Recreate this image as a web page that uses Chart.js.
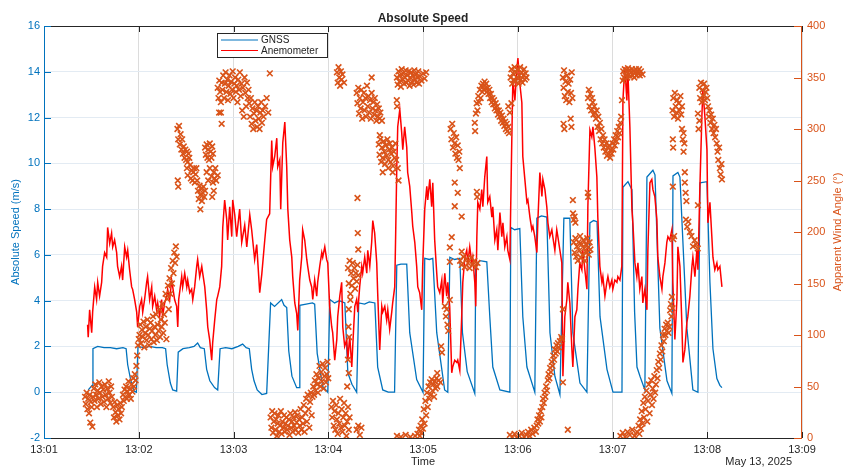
<!DOCTYPE html>
<html>
<head>
<meta charset="utf-8">
<script src="https://cdn.jsdelivr.net/npm/chart.js@4.4.1/dist/chart.umd.min.js"></script>
<style>
  html, body { margin: 0; padding: 0; background: #fff; }
  #wrap { width: 847px; height: 467px; }
</style>
</head>
<body>
<div id="wrap"><canvas id="chart" width="847" height="467"></canvas></div>
<script>
// x values are seconds after 13:01:00 (May 13, 2025)
const minuteTicks = [0, 60, 120, 180, 240, 300, 360, 420, 480];
const tickLabels = ['13:01', '13:02', '13:03', '13:04', '13:05', '13:06', '13:07', '13:08', '13:09'];
const speedTicks = [-2, 0, 2, 4, 6, 8, 10, 12, 14, 16];
const angleTicks = [0, 50, 100, 150, 200, 250, 300, 350, 400];

// GNSS absolute speed (m/s): [t, v]
const gnss = [
  [28,0.1],[30.5,0.3],[31,1.9],[34,2.0],[38,1.95],[42,1.95],[46,1.9],[50,1.95],[52,1.9],[53,1.2],[55,0.5],[57,0.05],[58.5,0.0],
  [59.5,2.0],[63,1.95],[67,2.0],[71,1.95],[75,1.95],[77,1.9],[78,1.2],[80,0.4],[81.5,0.1],[84,0.05],
  [85,1.75],[88,1.9],[92,1.95],[95,2.0],[97.3,2.15],[99,1.95],[101.5,1.9],[103,1.0],[105,0.5],[108,0.2],[110,0.1],
  [111.5,1.9],[115,1.95],[119,1.9],[123,2.0],[125.8,2.1],[128,1.95],[130,1.9],[131.5,1.0],[133,0.5],[135,0.1],[138,-0.1],[141,-0.05],
  [143.5,3.9],[146,3.75],[150.5,4.05],[152,3.8],[153.7,3.7],[155,1.8],[157,0.7],[160,0.2],[161.5,0.2],
  [162,3.8],[166,3.85],[170,3.9],[171.4,3.85],[173,1.7],[176.5,0.25],[179.7,0.0],
  [181,4.05],[184,3.9],[187,4.0],[190.5,3.9],[192.4,0.85],[195,0.35],[198,0.0],
  [199.3,3.9],[203,3.85],[206,3.95],[209.5,3.9],[211.3,1.1],[214.5,0.1],[218,0.0],[222,0.0],
  [223.4,5.55],[226,5.6],[229.7,5.6],[231.6,2.6],[236,0.55],[240,0.0],
  [241.1,5.85],[244,5.8],[246.2,5.85],[248.7,2.6],[253.7,0.1],[255.7,0.0],
  [257,5.9],[260,5.8],[263.3,5.85],[265,2.6],[268,0.9],[272.8,-0.05],
  [273.4,5.5],[276,5.75],[280.4,5.7],[282.3,3.3],[284.2,1.1],[288.7,0.1],[295,0.0],
  [295.6,7.2],[298,7.1],[301.3,7.15],[303.2,3.3],[305.8,1.1],[310.8,0.0],
  [312.1,7.6],[315,7.7],[318.4,7.65],[320.4,2.6],[323.5,0.7],[326.7,-0.1],
  [329.2,7.6],[333,7.6],[334.9,2.6],[339.4,0.4],[343.8,0.0],
  [345.7,7.4],[348,7.5],[350.2,7.45],[352.1,3.3],[356.5,1.0],[360.3,0.0],[366,0.0],
  [366.6,8.95],[369.8,9.2],[372.3,8.85],[374,3.5],[375.5,1.1],[377.4,0.7],[380.5,0.1],
  [381.8,9.4],[385.6,9.7],[386.9,9.5],[390,2.8],[394.5,0.5],[397.6,-0.05],
  [398.3,9.45],[401.4,9.6],[402.7,9.4],[407.1,2.8],[410.9,0.1],[414.1,0.0],
  [415.4,9.15],[419.8,9.2],[421.7,4.8],[423.6,1.9],[426.1,0.6],[428,0.3],[429.3,0.2]
];

// Anemometer speed (m/s): [t, v]
const anemometer = [
  [27.6,2.95],[28.0,2.4],[28.9,3.6],[30.2,2.6],[30.8,3.5],[32.1,4.6],[33.3,4.05],[34.0,4.8],[35.2,4.2],[36.5,4.8],
  [37.1,5.5],[38.4,6.1],[39.7,5.9],[40.3,7.2],[41.6,6.5],[42.8,6.95],[43.5,6.35],[44.7,6.65],[46.0,6.1],[46.6,5.5],
  [47.9,5.05],[49.1,5.5],[49.8,4.9],[51.1,6.35],[52.3,5.9],[53.0,6.2],[54.2,5.35],[55.5,4.6],[56.1,4.5],[57.4,4.05],
  [58.7,3.5],[59.3,2.85],[60.6,3.75],[61.8,4.05],[62.5,3.5],[63.7,4.05],[65.0,4.8],[65.6,5.05],[66.9,4.05],[68.2,4.6],
  [68.8,3.75],[70.1,4.2],[71.3,3.6],[72.0,3.9],[73.2,3.3],[74.5,4.05],[75.1,3.3],[76.4,3.9],[77.7,4.2],[78.3,4.5],
  [79.6,4.05],[80.8,4.9],[81.5,4.6],[82.7,4.05],[84.0,3.75],[84.7,2.85],[85.3,4.05],[87.2,5.05],[87.8,4.6],[89.1,5.2],
  [90.4,4.6],[91.0,4.9],[92.3,4.35],[93.5,4.5],[94.2,4.05],[95.4,4.6],[96.7,5.5],[97.3,5.8],[98.6,5.05],[99.9,5.5],
  [100.5,5.2],[101.8,4.6],[103.0,3.6],[103.7,2.85],[104.9,2.3],[106.2,1.4],[106.8,2.15],[108.1,3.15],[109.4,4.05],[110.0,4.2],
  [111.3,4.6],[112.5,5.5],[113.2,7.2],[114.4,8.4],[115.7,7.55],[116.3,6.65],[117.6,8.1],[118.9,6.8],[119.5,8.4],[120.8,7.75],
  [122.0,6.8],[123.9,8.0],[125.2,6.55],[127.1,7.3],[128.4,6.35],[130.3,7.75],[131.5,7.1],[133.4,5.8],[134.7,6.45],[136.6,4.35],
  [137.9,5.15],[139.8,6.65],[141.0,7.55],[142.9,7.8],[144.2,11.0],[144.8,9.85],[146.1,10.3],[147.4,11.1],[148.0,9.85],[149.3,10.15],
  [149.9,8.0],[151.2,10.9],[152.5,11.8],[153.7,9.85],[154.4,8.0],[155.6,6.65],[156.9,5.9],[157.5,5.05],[158.8,3.9],[160.0,3.45],
  [160.7,2.7],[161.9,4.9],[163.2,5.9],[163.8,7.1],[165.1,6.65],[166.4,5.8],[167.0,5.5],[168.3,4.9],[169.5,4.6],[170.2,4.05],
  [171.4,4.9],[172.7,4.2],[173.3,4.8],[174.6,5.5],[175.9,6.1],[176.5,5.9],[177.8,6.35],[179.0,5.8],[179.7,5.65],[180.9,3.75],
  [182.2,2.85],[182.8,2.6],[184.1,1.4],[185.4,2.3],[186.0,3.3],[187.3,4.2],[188.5,4.8],[189.2,2.85],[190.4,2.0],[191.7,2.3],
  [192.4,1.4],[193.6,2.45],[194.9,1.1],[195.5,2.0],[196.8,3.75],[198.0,4.05],[198.7,3.5],[199.9,4.6],[201.2,5.5],[201.8,5.2],
  [203.1,5.9],[204.4,5.2],[205.0,6.2],[206.3,5.5],[207.5,6.55],[208.2,7.5],[209.4,6.95],[210.7,5.65],[211.3,4.35],[212.6,1.85],
  [213.9,3.75],[214.5,3.5],[215.8,3.75],[217.0,3.15],[217.7,3.6],[218.9,2.75],[220.2,3.5],[220.8,3.9],[222.1,4.6],[222.7,6.95],
  [223.4,9.85],[224.0,11.6],[225.3,12.35],[226.5,11.35],[227.2,10.6],[228.4,11.6],[229.7,10.7],[230.3,9.6],[231.6,9.0],[232.9,7.85],
  [233.5,7.25],[234.8,6.55],[236.0,5.5],[236.7,4.6],[237.9,4.35],[239.2,3.6],[239.8,5.5],[241.1,8.0],[242.4,9.0],[243.0,8.4],
  [244.3,9.3],[245.5,8.1],[246.2,9.15],[247.4,6.65],[248.7,5.2],[249.3,4.6],[250.6,4.35],[251.9,4.9],[252.5,3.9],[253.8,5.2],
  [255.0,4.2],[255.7,4.8],[256.9,3.75],[258.2,0.85],[258.8,1.1],[260.1,1.4],[261.4,1.3],[262.0,1.4],[263.3,0.95],[264.5,3.3],
  [265.2,4.8],[266.5,5.9],[267.7,6.2],[268.4,5.65],[269.6,6.35],[270.9,5.65],[271.5,5.9],[272.8,4.8],[273.4,3.75],[274.1,6.8],
  [274.7,8.3],[276.0,8.0],[277.2,8.85],[277.9,8.1],[279.1,9.4],[280.4,10.3],[281.0,8.3],[282.3,8.55],[283.6,7.65],[284.2,8.1],
  [285.5,6.65],[286.7,7.1],[287.4,6.2],[288.7,7.85],[289.9,6.8],[290.6,7.4],[291.8,6.35],[293.1,6.8],[293.7,6.2],[295.0,5.8],
  [296.2,10.9],[296.9,13.65],[298.2,12.75],[299.4,14.1],[300.1,14.6],[301.3,13.5],[302.6,12.65],[303.2,10.3],[304.5,9.3],[305.8,8.3],
  [306.4,8.4],[307.7,7.65],[308.9,7.1],[309.6,7.25],[310.8,6.8],[312.1,6.1],[312.7,7.4],[314.0,9.6],[315.3,8.55],[315.9,9.3],
  [317.2,8.85],[318.4,8.1],[319.1,7.4],[320.3,6.8],[321.6,7.1],[322.2,6.8],[323.5,6.2],[324.7,7.1],[325.4,6.8],[326.7,6.2],
  [327.9,5.65],[328.6,0.7],[329.8,3.3],[331.1,4.05],[331.7,4.8],[333.0,3.9],[334.3,1.85],[334.9,1.1],[336.2,3.3],[337.4,3.6],
  [338.1,4.5],[339.3,5.65],[340.6,5.35],[341.2,6.2],[342.5,5.35],[343.8,4.5],[344.4,8.1],[345.7,11.45],[346.9,11.15],[347.6,11.6],
  [348.8,10.7],[350.1,9.4],[350.7,7.65],[352.0,5.5],[353.3,4.8],[353.9,5.05],[355.2,4.2],[356.4,4.8],[357.1,5.05],[358.3,4.6],
  [359.6,4.9],[360.2,4.5],[361.5,4.9],[362.8,4.8],[363.4,5.05],[364.7,4.9],[365.9,5.5],[366.6,12.75],[367.8,14.2],[369.1,12.75],
  [369.7,14.1],[371.0,11.6],[372.3,8.0],[372.9,7.4],[374.2,5.65],[375.4,5.05],[376.1,5.65],[377.3,4.5],[378.6,5.05],[379.2,3.9],
  [380.5,4.5],[381.8,3.6],[382.4,6.2],[383.7,9.15],[384.9,9.3],[385.6,8.85],[386.8,8.55],[388.1,7.55],[388.7,5.9],[390.0,5.05],
  [391.3,4.5],[391.9,5.05],[393.2,5.65],[394.4,6.55],[395.1,6.8],[396.3,6.65],[397.6,7.1],[398.2,4.8],[399.5,2.3],[400.8,4.05],
  [401.4,6.35],[402.7,5.5],[403.9,3.05],[404.6,1.3],[405.8,1.85],[407.1,3.05],[407.7,3.3],[409.0,4.2],[410.3,5.5],[410.9,5.9],
  [412.2,5.05],[413.4,6.2],[414.1,5.35],[415.3,8.85],[416.6,12.05],[417.2,13.2],[418.5,12.05],[419.8,10.6],[420.4,7.4],[421.7,8.3],
  [422.9,6.8],[423.6,5.9],[424.8,5.35],[426.1,5.65],[426.7,5.35],[428.0,5.5],[429.3,4.6]
];

// Apparent wind angle (deg): [t, angle]
const windAngle = [
  [26,40],[26.5,33],[27,44],[27.5,28],[28,38],[28.5,24],[29,42],[29.3,15],[29.7,35],[30.2,30],[30.6,11],[31,40],
  [31.5,48],[32,36],[32.5,52],[33,42],[33.5,30],[34,46],[34.5,38],[35,54],[35.5,44],[36,33],[36.5,50],[37,40],
  [37.5,47],[38,35],[38.5,52],[39,42],[39.5,30],[40,48],[40.5,38],[41,55],[41.5,44],[42,34],[42.5,50],[43,40],
  [43.8,30],[44.3,20],[44.8,35],[45.3,25],[45.8,16],[46.3,32],[46.8,22],[47.3,28],[47.8,18],[48.3,34],[48.8,24],[49.3,30],
  [50,42],[50.5,36],[51,47],[51.5,40],[52,50],[52.5,38],[53,45],[53.5,55],[54,42],[54.5,48],[55,38],[55.5,52],
  [56,45],[56.5,58],[57,50],[57.5,62],[58,56],[58.5,70],[59,80],[59.5,90],[60,96],
  [60.5,100],[61,110],[61.5,92],[62,105],[62.5,98],[63,113],[63.5,88],[64,102],[64.5,108],[65,95],[65.5,115],[66,100],
  [66.5,90],[67,106],[67.5,112],[68,96],[68.5,104],[69,118],[69.5,93],[70,108],[70.5,100],[71,120],[71.5,95],[72,110],
  [72.5,104],[73,125],[73.5,98],[74,115],[74.5,108],[75,130],[75.5,102],[76,120],[76.5,112],[77,140],[77.5,96],
  [78,135],[78.5,148],[79,125],[79.5,155],[80,140],[80.5,165],[81,150],[81.5,172],[82,160],[82.5,180],[83,170],[83.5,186],[84,176],
  [84.5,300],[85,290],[85.5,303],[86,285],[86.5,295],[87,280],[87.5,290],[88,276],[84.7,250],[85,244],
  [88.5,283],[89,272],[89.5,280],[90,270],[90.5,278],[91,268],[91.5,276],[92,272],
  [90.5,262],[91,255],[92.5,265],[93,252],[93.5,260],[94,250],[94.5,258],[95,262],[95.5,248],[96,256],[96.5,262],[97,250],
  [97.5,240],[98,232],[98.5,245],[99,236],[99.5,242],[100,230],[100.5,238],[101,244],[101.5,234],[102,240],[99,222],
  [102,282],[102.5,275],[103,285],[103.5,272],[104,280],[104.5,270],[105,286],[105.5,278],[106,272],[106.5,283],[107,276],
  [103,258],[104,250],[105,262],[106,254],[107,248],[107.5,258],[108,252],[108.5,262],[109,250],[110,255],[106.5,234],[107.5,240],
  [110,340],[110.5,330],[111,347],[111.5,336],[112,326],[112.5,345],[113,338],[113.5,352],[114,330],[114.5,344],[115,355],
  [115.5,336],[116,348],[116.5,328],[117,342],[117.5,352],[118,334],[118.5,346],[119,338],[119.5,356],[120,330],[120.5,344],
  [121,350],[121.5,336],[122,342],[122.5,326],[123,348],[123.5,338],[124,355],[124.5,332],[125,344],[125.5,318],[126,340],
  [126.5,312],[127,350],[127.5,335],[128,322],[128.5,345],[129,330],[129.5,338],[112,316],[112.5,305],[110.9,316],
  [130,325],[130.5,312],[131,330],[131.5,305],[132,320],[132.5,300],[133,315],[133.5,326],[134,308],[134.5,318],[135,302],
  [135.5,322],[136,310],[136.5,300],[137,316],[137.5,326],[138,306],[138.5,318],[139,312],[140,322],[141,330],[142,316],[143,354],
  [143.5,20],[144,10],[144.5,26],[145,5],[145.5,16],[146,24],[146.5,8],[147,18],[147.5,2],[148,14],[148.5,22],[149,6],
  [149.5,12],[150,26],[150.5,4],[151,16],[151.5,10],[152,22],[152.5,6],[153,14],[153.5,20],[154,8],[154.5,12],[155,18],
  [155.5,3],[156,24],[156.5,10],[157,16],[157.5,6],[158,20],[158.5,12],[159,25],[159.5,8],[160,15],[160.5,22],[161,5],
  [161.5,18],[162,12],[162.5,28],[163,8],[163.5,20],[164,14],[164.5,32],[165,6],[165.5,24],[166,38],[166.5,16],[167,42],
  [167.5,28],[168,10],[168.5,35],[169,44],[169.5,22],[170,40],
  [170.5,50],[171,42],[171.5,56],[172,46],[172.5,62],[173,52],[173.5,44],[174,58],[174.5,70],[175,50],[175.5,64],[176,55],
  [176.5,72],[177,48],[177.5,60],[178,68],[178.5,54],[179,62],[179.5,74],[180,58],
  [182,30],[182.5,20],[183,36],[183.5,12],[184,26],[184.5,8],[185,32],[185.5,18],[186,4],[186.5,24],[187,14],[187.5,38],
  [188,10],[188.5,28],[189,6],[189.5,20],[190,34],[190.5,12],[191,24],[191.5,2],[192,16],[192.5,30],[193,8],[193.5,20],
  [198,8],[199,12],[200,3],[201,10],
  [192.5,165],[193,150],[193.5,172],[194,140],[194.5,160],[195,148],[195.5,170],[196,155],[196.5,165],[197,145],[197.5,160],
  [198,152],[198.5,168],[199,158],[193,125],[192.8,108],[193.2,98],[192.5,76],[193,63],[192,50],[198.5,233],[198.7,199],[199,183],[194,134],
  [185.5,355],[186,345],[186.5,360],[187,350],[187.5,342],[188,356],[188.5,348],[189,353],[190,345],[207.5,350],
  [198,335],[198.5,325],[199,340],[199.5,315],[200,330],[200.5,320],[201,338],[201.5,310],[202,326],[202.5,335],[203,318],
  [203.5,330],[204,312],[204.5,342],[205,322],[205.5,332],[206,316],[206.5,328],[207,310],[207.5,335],[208,320],[208.5,326],
  [209,314],[209.5,330],[210,318],[210.5,308],[211,324],[211.5,312],[212,320],[212.5,310],[213,316],[214,308],[212.6,294],
  [223.5,350],[224,343],[224.5,356],[225,346],[225.5,352],[226,341],[226.5,358],[227,348],[227.5,354],[228,344],[228.5,350],
  [229,357],[229.5,345],[230,352],[230.5,347],[231,356],[231.5,342],[232,350],[232.5,355],[233,346],[233.5,352],[234,343],
  [234.5,357],[235,348],[235.5,353],[236,345],[236.5,350],[237,356],[237.5,344],[238,351],[239,347],[240,354],[241,349],[242,355],
  [223.4,328],[223.6,322],
  [212,285],[212.5,275],[213,290],[213.5,268],[214,282],[214.5,272],[215,288],[215.5,278],[216,266],[216.5,284],[217,274],
  [217.5,290],[218,270],[218.5,280],[219,286],[219.5,268],[220,276],[220.5,282],[221,264],[221.5,278],[222,272],[222.5,286],
  [223,270],[214.5,258],[220.8,258],[218,262],[224,262],[224.5,250],
  [257.5,300],[258,290],[258.5,305],[259,282],[259.5,296],[260,286],[260.5,276],[261,292],[261.5,272],[262,284],[262.5,270],
  [263,278],[263.3,262],[260.1,248],[262,238],[260.1,225],[264.5,215],[274.1,239],[274.3,234],[258.2,195],[257,185],[257,171],[264.5,181],
  [263.5,172],[264.5,168],[265.5,176],[266.5,166],[267.5,174],[268.5,170],[269.5,165],[270.5,175],[271.5,168],[272.5,172],
  [273.5,166],[274.5,170],
  [257,134],[253.8,128],[254.5,118],[255,125],[255.5,110],[256,104],[251.5,89],[252,83],[249,63],[250,56],[251,54],
  [223.5,2],[226,1],[229,3],[232,1],[235,2],[236.5,4],[237.5,8],[238,2],[238.5,12],[239,5],[239.5,18],[240,9],[240.5,28],
  [241,14],[241.5,36],[242,22],[242.5,44],[243,30],[243.5,50],[244,38],[244.5,54],[245,42],[245.5,57],[246,46],[246.5,52],
  [247,40],[247.5,55],[248,48],[248.5,58],[249,50],
  [272.8,306],[273,298],[273.5,315],[274,325],[274.5,318],[275,332],[275.5,326],[276,338],[276.5,330],[277,342],[277.5,336],
  [278,344],[278.5,338],[279,346],[279.5,340],[280,344],[280.5,336],
  [281,340],[281.5,334],[282,338],[282.5,330],[283,334],[283.5,326],[284,330],[284.5,324],[285,328],[285.5,320],[286,325],
  [286.5,318],[287,322],[287.5,314],[288,318],[288.5,312],[289,316],[289.5,308],[290,313],[290.5,306],[291,310],[291.5,303],
  [292,307],[292.5,300],[293,305],[293.5,298],[294,302],[294.5,296],[294,322],[295,316],[296,325],
  [295.5,350],[296,358],[296.5,344],[297,354],[297.5,348],[298,360],[298.5,346],[299,355],[299.5,350],[300,358],[300.5,344],
  [301,352],[301.5,360],[302,348],[302.5,355],[303,345],[303.5,352],[304,358],[304.5,348],[305,354],[305.5,350],
  [295,3],[296.5,1],[298,4],[299.5,0],[301,2],[302.5,5],[304,1],[305.5,3],[306.5,6],[307.5,2],[308.5,8],[309.5,4],[310.5,10],[311.5,6],
  [312,12],[312.5,18],[313,14],[313.5,22],[314,16],[314.5,26],[315,20],
  [315.5,30],[316,38],[316.5,34],[317,44],[317.5,40],[318,50],[318.5,46],
  [319,56],[319.5,62],[320,58],[320.5,68],[321,64],[321.5,74],[322,70],
  [322.5,80],[323,76],[323.5,86],[324,82],[324.5,90],[325,84],[325.5,92],[326,88],[326.7,94],[327.5,98],[328,96],
  [328.6,125],[328.6,54],[331.7,8],
  [328.6,350],[329,340],[329.3,357],[329.8,332],[330.2,346],[330.7,328],[331.2,352],[331.7,336],[332.2,344],[332.7,326],
  [333.2,348],[333.7,335],[334.2,355],[334.6,330],[329,305],[329.5,300],[333.5,310],[334,302],
  [334.9,231],[335,218],[335.5,212],[336,215],[336.5,209],
  [335.5,190],[336,180],[336.5,194],[337,176],[337.5,186],[338,172],[338.5,190],[339,182],[339.5,196],[340,175],[340.5,188],
  [341,178],[341.5,192],[342,184],[342.5,172],[343,188],[343.5,180],[344,194],[344.5,185],[345,178],[345.5,190],[346,183],
  [344.4,238],[344.6,234],
  [344.5,330],[345,338],[345.5,322],[346,334],[346.5,318],[347,330],[347.5,326],[348,314],[348.5,322],[349,316],[349.5,310],
  [350,318],[350.5,302],[351,312],[351.5,298],[352,306],[352.5,290],[353,300],[353.5,286],[354,294],[354.5,282],[355,290],
  [355.5,278],[356,286],[356.5,274],[357,282],[357.5,276],[358,284],[358.5,272],[359,280],[359.5,276],[360,286],[360.5,280],
  [361,290],[361.5,284],[362,294],[362.5,288],[363,298],[363.5,292],[364,302],[364.5,296],[365,306],[365.5,312],[366,328],[366.5,347],
  [366.8,356],[367.3,350],[367.8,358],[368.3,352],[368.8,356],[369.3,350],[369.8,359],[370.3,353],[370.8,357],[371.3,351],
  [371.8,355],[372.3,358],[372.8,352],[373.3,356],[373.8,350],[374.3,355],[374.8,358],[375.3,352],[375.8,356],[376.3,354],
  [376.8,358],[377.3,352],[378,356],[379,353],
  [365,2],[366.5,5],[368,1],[369.5,6],[371,3],[372.5,8],[374,2],[375.5,6],[376.5,12],[377,4],[377.5,18],[378,9],[378.5,26],
  [379,14],[379.5,34],[380,20],[380.5,40],[381,28],[381.5,46],[382,16],[382.5,36],[383,52],[383.5,24],[384,42],[384.5,56],
  [385,32],[385.5,48],[386,38],[386.5,60],[387,44],[387.5,52],[388,66],[388.5,58],[389,74],[389.5,68],[390,82],[390.5,76],
  [391,90],[391.5,84],[392,100],[392.5,94],[393,106],[393.5,100],[394,110],[394.5,104],[395,112],[395.5,102],[396,108],
  [396.5,124],[397,130],[397.3,118],[397.6,137],[398,126],
  [398,318],[398.5,330],[399,312],[399.5,335],[400,322],[400.5,316],[401,328],[401.5,310],[402,325],[402.5,318],[403,332],
  [403.5,314],[404,322],[398.2,290],[398.4,282],[398.2,244],[398.5,193],[399,196],
  [404,300],[404.5,290],[405,296],[405,278],[405.5,286],[405.8,258],[405.8,248],[406.3,238],[406.8,230],[406.5,212],[407.3,205],
  [408,210],[409,200],[410,196],[411,186],[412,192],[413,188],[414,184],[414.1,226],
  [414.1,315],[414.5,300],[415,308],[415,340],[415.5,330],[416,345],[416.5,326],[417,338],[417.5,332],[418,344],[418.5,328],
  [419,336],[419.5,340],[420,330],
  [420.5,322],[421,312],[421.5,318],[422,306],[422.5,314],[423,300],[423.5,310],[424,296],[424.5,304],[425,292],[425.5,300],
  [426,286],[426.5,278],[427,270],[427.5,282],[428,262],[428.5,256],[429,266],[429.3,251]
];

const BLUE = '#0072BD';
const RED = '#FF0000';
const ORANGE = '#D95319';
const DARK = '#262626';
const FONT = '"Liberation Sans", Arial, Helvetica, sans-serif';

const toXY = arr => arr.map(p => ({ x: p[0], y: p[1] }));

// frame, inward ticks, legend, titles (MATLAB style)
const frame = {
  id: 'frame',
  afterDraw(chart) {
    const { ctx, chartArea: a, scales } = chart;
    const seg = (x1, y1, x2, y2) => { ctx.beginPath(); ctx.moveTo(x1, y1); ctx.lineTo(x2, y2); ctx.stroke(); };
    ctx.save();
    ctx.lineWidth = 1;
    ctx.strokeStyle = DARK;
    seg(a.left, a.top + 0.5, a.right, a.top + 0.5);
    seg(a.left, a.bottom + 0.5, a.right, a.bottom + 0.5);
    minuteTicks.forEach(v => {
      const x = Math.round(scales.x.getPixelForValue(v)) + 0.5;
      seg(x, a.top, x, a.top + 6);
      seg(x, a.bottom, x, a.bottom - 6);
    });
    ctx.strokeStyle = BLUE;
    seg(a.left + 0.5, a.top, a.left + 0.5, a.bottom);
    speedTicks.forEach(v => {
      const y = Math.round(scales.y.getPixelForValue(v)) + 0.5;
      seg(a.left, y, a.left + 7, y);
    });
    ctx.strokeStyle = ORANGE;
    seg(a.right - 0.5, a.top, a.right - 0.5, a.bottom);
    angleTicks.forEach(v => {
      const y = Math.round(scales.y1.getPixelForValue(v)) + 0.5;
      seg(a.right - 8, y, a.right, y);
    });

    // legend
    ctx.fillStyle = '#fff';
    ctx.fillRect(217, 33, 110, 24);
    ctx.strokeStyle = DARK;
    ctx.lineWidth = 1;
    ctx.strokeRect(217.5, 33.5, 110, 24);
    ctx.font = '10px ' + FONT;
    ctx.textBaseline = 'middle';
    ctx.textAlign = 'left';
    ctx.lineWidth = 1.2;
    ctx.strokeStyle = BLUE;
    seg(221, 40, 258, 40);
    ctx.strokeStyle = RED;
    seg(221, 50.5, 258, 50.5);
    ctx.fillStyle = DARK;
    ctx.fillText('GNSS', 261, 40);
    ctx.fillText('Anemometer', 261, 51);

    // titles
    ctx.textAlign = 'center';
    ctx.font = 'bold 12px ' + FONT;
    ctx.fillText('Absolute Speed', (a.left + a.right) / 2, 19);
    ctx.font = '11px ' + FONT;
    ctx.fillText('Time', (a.left + a.right) / 2, 462);
    ctx.textAlign = 'right';
    ctx.fillText('May 13, 2025', 792, 462);

    ctx.textAlign = 'center';
    ctx.save();
    ctx.translate(16, (a.top + a.bottom) / 2);
    ctx.rotate(-Math.PI / 2);
    ctx.fillStyle = BLUE;
    ctx.fillText('Absolute Speed (m/s)', 0, 0);
    ctx.restore();
    ctx.save();
    ctx.translate(838, (a.top + a.bottom) / 2);
    ctx.rotate(-Math.PI / 2);
    ctx.fillStyle = ORANGE;
    ctx.fillText('Apparent Wind Angle (°)', 0, 0);
    ctx.restore();
    ctx.restore();
  }
};

new Chart(document.getElementById('chart'), {
  data: {
    datasets: [
      {
        type: 'scatter',
        label: 'Apparent Wind Angle',
        data: toXY(windAngle),
        yAxisID: 'y1',
        pointStyle: 'crossRot',
        pointRadius: 4,
        borderColor: ORANGE,
        backgroundColor: ORANGE,
        borderWidth: 1.6,
        order: 0
      },
      {
        type: 'line',
        label: 'Anemometer',
        data: toXY(anemometer),
        yAxisID: 'y',
        borderColor: RED,
        borderWidth: 1.5,
        pointRadius: 0,
        tension: 0,
        order: 1
      },
      {
        type: 'line',
        label: 'GNSS',
        data: toXY(gnss),
        yAxisID: 'y',
        borderColor: BLUE,
        borderWidth: 1.3,
        pointRadius: 0,
        tension: 0,
        order: 2
      }
    ]
  },
  options: {
    responsive: false,
    animation: false,
    devicePixelRatio: 1,
    layout: { padding: { top: 26, left: 0, right: 0, bottom: 0 } },
    plugins: {
      legend: { display: false },
      tooltip: { enabled: false },
      title: { display: false }
    },
    scales: {
      x: {
        type: 'linear',
        min: 0,
        max: 480,
        afterFit: s => { s.height = 29; },
        afterBuildTicks: s => { s.ticks = minuteTicks.map(v => ({ value: v })); },
        ticks: {
          padding: 5,
          color: DARK,
          font: { size: 11, family: FONT },
          maxRotation: 0,
          callback: (v) => tickLabels[minuteTicks.indexOf(v)]
        },
        grid: { color: '#dcdcdc', drawTicks: false },
        border: { display: false }
      },
      y: {
        position: 'left',
        min: -2,
        max: 16,
        afterFit: s => { s.width = 44; },
        afterBuildTicks: s => { s.ticks = speedTicks.map(v => ({ value: v })); },
        ticks: { padding: 4, color: BLUE, font: { size: 11, family: FONT } },
        grid: { color: '#e3ebf3', drawTicks: false },
        border: { display: false }
      },
      y1: {
        position: 'right',
        min: 0,
        max: 400,
        afterFit: s => { s.width = 45; },
        afterBuildTicks: s => { s.ticks = angleTicks.map(v => ({ value: v })); },
        ticks: { padding: 5, color: ORANGE, font: { size: 11, family: FONT } },
        grid: { drawOnChartArea: false, drawTicks: false },
        border: { display: false }
      }
    }
  },
  plugins: [frame]
});
</script>
</body>
</html>
